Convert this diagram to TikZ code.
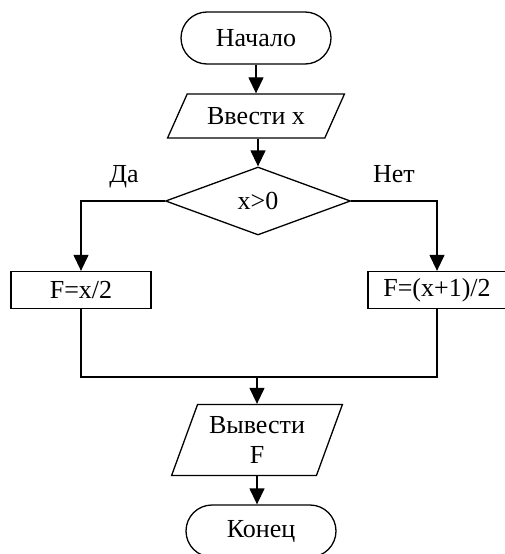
\documentclass[tikz,border=0pt]{standalone}
\usepackage{fontspec}
\setmainfont{Liberation Serif}
\usetikzlibrary{shapes.geometric}
\usetikzlibrary{arrows.meta}

\begin{document}
\begin{tikzpicture}[x=1pt,y=-1pt,line width=1.3pt,
  every node/.style={font=\fontsize{26}{30}\selectfont},
  terminal/.style={draw,rounded corners=26pt,minimum width=150pt,minimum height=52pt,inner sep=0pt},
  io/.style={draw,trapezium,trapezium stretches=true,inner sep=0pt},
  decision/.style={draw,diamond,aspect=2.7,inner sep=0pt,minimum width=185pt,minimum height=68pt},
  process/.style={draw,rectangle,minimum width=140pt,minimum height=37pt,inner sep=0pt},
  flow/.style={-{Triangle[length=16pt,width=15pt]}}]

  \useasboundingbox (0,0) rectangle (505,554);
  \clip (0,0) rectangle (505,554);

  % main column
  \node[terminal] (start) at (256,38) {Начало};
  \node[io,trapezium left angle=51,trapezium right angle=129,
        minimum width=177pt,minimum height=44pt] (input) at (256,116) {Ввести x};
  \node[decision] (cond) at (258,201) {x>0};

  % branches
  \node[process] (yes) at (81,290) {F=x/2};
  \node[process,minimum width=138pt] (no) at (437,290) {F=(x+1)/2};
  \node[anchor=base] (yeslabel) at (124,182) {Да};
  \node[anchor=base] (nolabel) at (394,182) {Нет};

  \coordinate (merge) at (257,377);

  \node[io,trapezium left angle=66,trapezium right angle=114,align=center,
        minimum width=171pt,minimum height=71pt] (output) at (257,440) {Вывести\\F};
  \node[terminal] (stop) at (261,531) {Конец};

  \draw[flow] (start) -- (input);
  \draw[flow] (input.south -| cond.north) -- (cond);
  \draw[flow] (cond.west) -| (yes);
  \draw[flow] (cond.east) -| (no);

  \draw (yes) |- (merge);
  \draw (no) |- (merge);
  \draw[flow] (merge) -- (output);
  \draw[flow] (output.south) -- (output.south |- stop.north);

\end{tikzpicture}
\end{document}
